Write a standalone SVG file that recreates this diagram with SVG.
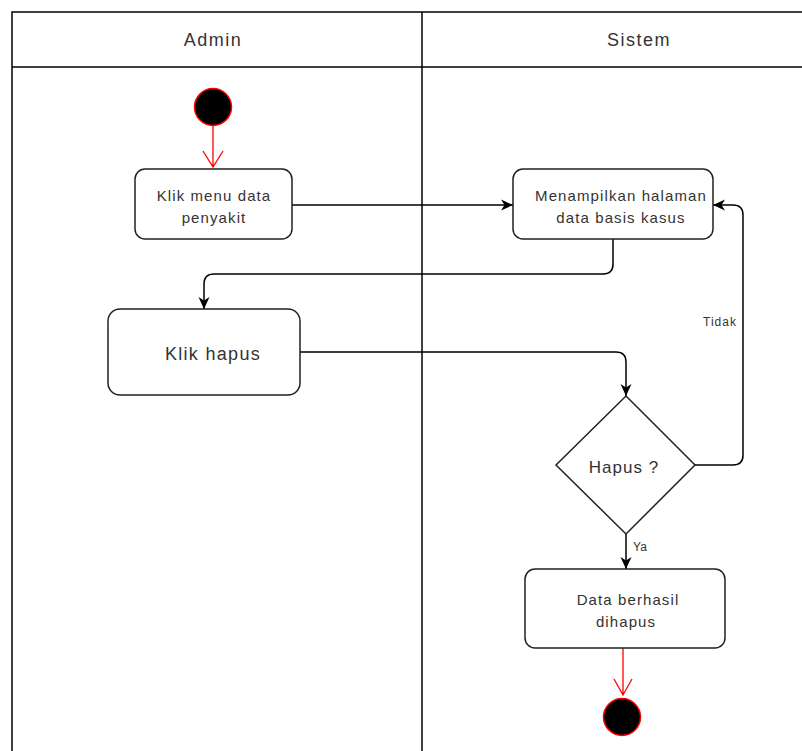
<svg xmlns="http://www.w3.org/2000/svg" width="802" height="751" viewBox="0 0 802 751">
  <defs>
    <style>
      .lane { fill: none; stroke: #000; stroke-width: 1.5; }
      .box { fill: #fff; stroke: #222; stroke-width: 1.5; }
      .txt { font-family: "Liberation Sans", Arial, sans-serif; fill: #333; text-anchor: middle; }
      .hdr { font-size: 18px; letter-spacing: 1.5px; }
      .lbl { font-size: 15px; letter-spacing: 1.1px; }
      .small { font-size: 12px; letter-spacing: 1px; }
      .flow { fill: none; stroke: #000; stroke-width: 1.5; }
      .red { fill: none; stroke: #ff0000; stroke-width: 1.3; }
      .dot { fill: #000; stroke: #ff0000; stroke-width: 1.5; }
    </style>
    <marker id="arrow" viewBox="0 0 12 12" refX="12" refY="6" markerWidth="12" markerHeight="12" markerUnits="userSpaceOnUse" orient="auto">
      <path d="M0,0.5 L12,6 L0,11.5 L3.5,6 z" fill="#000"/>
    </marker>
  </defs>

  <!-- swimlanes -->
  <g id="lanes">
    <path class="lane" d="M12,751 V12 H802"/>
    <path class="lane" d="M12,67 H802"/>
    <path class="lane" d="M422,12 V751"/>
    <text class="txt hdr" x="213" y="46">Admin</text>
    <text class="txt hdr" x="639" y="46">Sistem</text>
  </g>

  <!-- connectors -->
  <g id="connectors">
    <path class="flow" d="M292,205 H513" marker-end="url(#arrow)"/>
    <path class="flow" d="M613,239 V264 Q613,274 603,274 H214 Q204,274 204,284 V309" marker-end="url(#arrow)"/>
    <path class="flow" d="M300,352 H616 Q626,352 626,362 V396" marker-end="url(#arrow)"/>
    <path class="flow" d="M695,465 H733 Q743,465 743,455 V215 Q743,205 733,205 H713" marker-end="url(#arrow)"/>
    <path class="flow" d="M626,534 V569" marker-end="url(#arrow)"/>
    <text class="txt small" x="720" y="326">Tidak</text>
    <text class="txt small" x="640" y="551" style="letter-spacing:0">Ya</text>
    <!-- start / end flows -->
    <path class="red" d="M213,126 V167 M203,151 L213,167 L223,151"/>
    <path class="red" d="M623,648 V695 M614,679 L623,695 L632,679"/>
  </g>

  <g id="start">
    <circle class="dot" cx="213" cy="107" r="18.5"/>
  </g>

  <g id="klik-menu">
    <rect class="box" x="135" y="169" width="157" height="70" rx="10"/>
    <text class="txt lbl" x="214" y="201">Klik menu data</text>
    <text class="txt lbl" x="214" y="223">penyakit</text>
  </g>

  <g id="tampil-halaman">
    <rect class="box" x="513" y="169" width="200" height="70" rx="10"/>
    <text class="txt lbl" x="621" y="201">Menampilkan halaman</text>
    <text class="txt lbl" x="621" y="223">data basis kasus</text>
  </g>

  <g id="klik-hapus">
    <rect class="box" x="108" y="309" width="192" height="86" rx="12"/>
    <text class="txt" x="213" y="360" style="font-size:18px;letter-spacing:1.3px">Klik hapus</text>
  </g>

  <g id="hapus-decision">
    <polygon class="box" points="626,396 695,465 626,534 556,465"/>
    <text class="txt" x="624" y="473" style="font-size:17px;letter-spacing:1px">Hapus ?</text>
  </g>

  <g id="berhasil">
    <rect class="box" x="525" y="569" width="200" height="79" rx="10"/>
    <text class="txt lbl" x="628" y="605">Data berhasil</text>
    <text class="txt lbl" x="626" y="627">dihapus</text>
  </g>

  <g id="end">
    <circle class="dot" cx="622" cy="717" r="18.5"/>
  </g>
</svg>
